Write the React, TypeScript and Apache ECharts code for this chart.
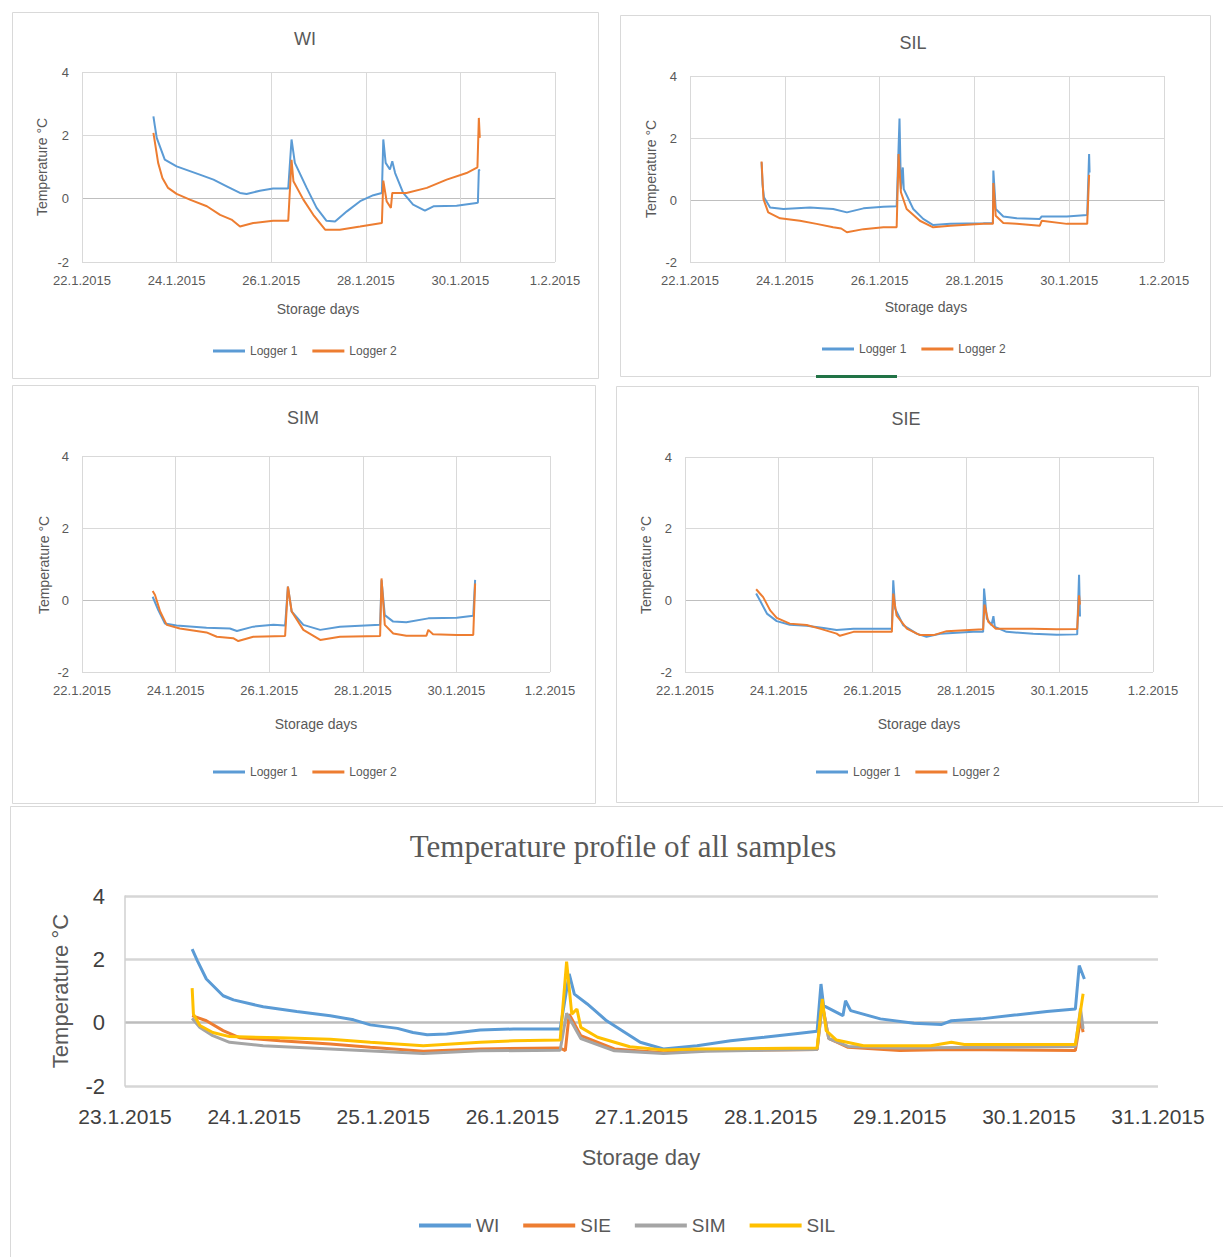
import React, { useEffect, useRef } from "react";
import * as echarts from "echarts";

// ---- tick labels ----
const SMALL_X_LABELS = ["22.1.2015", "24.1.2015", "26.1.2015", "28.1.2015", "30.1.2015", "1.2.2015"];
const ALL_X_LABELS = ["23.1.2015", "24.1.2015", "25.1.2015", "26.1.2015", "27.1.2015", "28.1.2015", "29.1.2015", "30.1.2015", "31.1.2015"];
const PANEL_TITLES = ["WI", "SIL", "SIM", "SIE"];
const LOGGER_NAMES = ["Logger 1", "Logger 2"];
const ALL_NAMES = ["WI", "SIE", "SIM", "SIL"];

// ---- data: [day of January 2015, temperature °C] ----
const WI_L1 = [[23.51,2.6],[23.54,2.3],[23.58,1.92],[23.75,1.23],[24.0,1.02],[24.49,0.76],[24.78,0.6],[25.06,0.39],[25.34,0.18],[25.48,0.15],[25.76,0.25],[26.04,0.32],[26.36,0.32],[26.43,1.87],[26.5,1.13],[26.75,0.34],[26.96,-0.29],[27.17,-0.7],[27.35,-0.72],[27.6,-0.4],[27.88,-0.08],[28.16,0.11],[28.34,0.18],[28.37,1.87],[28.42,1.13],[28.51,0.92],[28.56,1.18],[28.62,0.81],[28.79,0.18],[29.0,-0.19],[29.25,-0.38],[29.43,-0.24],[29.92,-0.22],[30.34,-0.14],[30.37,-0.12],[30.39,0.92],[30.41,0.88]];
const WI_L2 = [[23.51,2.08],[23.55,1.7],[23.61,1.13],[23.7,0.65],[23.82,0.34],[24.0,0.15],[24.28,-0.03],[24.64,-0.24],[24.92,-0.51],[25.16,-0.66],[25.34,-0.88],[25.62,-0.77],[26.04,-0.7],[26.36,-0.7],[26.43,1.23],[26.47,0.55],[26.68,-0.03],[26.89,-0.51],[27.14,-0.98],[27.45,-0.98],[27.88,-0.88],[28.34,-0.77],[28.37,0.57],[28.44,-0.08],[28.53,-0.29],[28.56,0.18],[28.86,0.18],[29.29,0.34],[29.71,0.6],[30.13,0.81],[30.36,0.99],[30.39,2.55],[30.41,1.92]];
const SIL_L1 = [[23.51,1.22],[23.53,0.5],[23.56,0.09],[23.69,-0.24],[23.97,-0.29],[24.53,-0.24],[25.02,-0.29],[25.31,-0.4],[25.66,-0.27],[26.08,-0.22],[26.36,-0.2],[26.42,2.63],[26.45,0.35],[26.49,1.05],[26.51,0.35],[26.71,-0.29],[26.92,-0.61],[27.13,-0.81],[27.49,-0.77],[28.19,-0.75],[28.39,-0.74],[28.4,0.95],[28.45,-0.29],[28.61,-0.53],[28.89,-0.59],[29.38,-0.61],[29.42,-0.53],[29.95,-0.53],[30.38,-0.48],[30.42,1.48],[30.43,0.89]];
const SIL_L2 = [[23.51,1.24],[23.55,0.03],[23.65,-0.4],[23.9,-0.59],[24.32,-0.67],[24.67,-0.77],[25.02,-0.88],[25.19,-0.92],[25.31,-1.04],[25.66,-0.94],[26.08,-0.88],[26.36,-0.88],[26.4,1.48],[26.45,0.25],[26.57,-0.29],[26.85,-0.67],[27.13,-0.88],[27.49,-0.83],[28.19,-0.77],[28.39,-0.77],[28.4,0.55],[28.45,-0.51],[28.61,-0.74],[28.89,-0.77],[29.38,-0.83],[29.42,-0.67],[29.95,-0.77],[30.38,-0.77],[30.42,0.81]];
const SIM_L1 = [[23.51,0.09],[23.63,-0.28],[23.77,-0.65],[24.02,-0.71],[24.66,-0.77],[25.16,-0.79],[25.31,-0.86],[25.66,-0.74],[26.09,-0.69],[26.34,-0.71],[26.4,0.37],[26.48,-0.32],[26.73,-0.69],[27.09,-0.83],[27.51,-0.74],[28.37,-0.69],[28.4,0.55],[28.47,-0.42],[28.65,-0.6],[28.93,-0.62],[29.4,-0.51],[30.01,-0.49],[30.36,-0.44],[30.4,0.56]];
const SIM_L2 = [[23.51,0.25],[23.56,0.14],[23.67,-0.32],[23.81,-0.69],[24.09,-0.79],[24.66,-0.9],[24.88,-1.02],[25.23,-1.06],[25.34,-1.14],[25.66,-1.02],[26.34,-1.0],[26.4,0.37],[26.48,-0.32],[26.73,-0.83],[27.09,-1.11],[27.51,-1.02],[28.37,-1.0],[28.4,0.6],[28.47,-0.69],[28.65,-0.93],[28.93,-0.99],[29.36,-0.99],[29.4,-0.83],[29.5,-0.95],[30.01,-0.97],[30.36,-0.97],[30.4,0.46]];
const SIE_L1 = [[23.52,0.19],[23.6,0.0],[23.75,-0.37],[23.96,-0.58],[24.24,-0.68],[24.6,-0.71],[24.96,-0.77],[25.24,-0.83],[25.6,-0.79],[26.01,-0.79],[26.42,-0.79],[26.45,0.56],[26.49,-0.23],[26.66,-0.69],[26.95,-0.93],[27.16,-1.02],[27.45,-0.93],[28.16,-0.88],[28.37,-0.88],[28.39,0.33],[28.45,-0.51],[28.55,-0.69],[28.59,-0.44],[28.62,-0.74],[28.87,-0.88],[29.44,-0.93],[29.94,-0.96],[30.38,-0.95],[30.42,0.71],[30.44,-0.45]];
const SIE_L2 = [[23.52,0.31],[23.6,0.19],[23.67,0.09],[23.82,-0.28],[23.96,-0.49],[24.24,-0.65],[24.6,-0.69],[24.88,-0.79],[25.24,-0.93],[25.31,-0.99],[25.6,-0.88],[26.01,-0.88],[26.42,-0.88],[26.45,0.19],[26.52,-0.42],[26.74,-0.79],[27.02,-0.97],[27.31,-0.97],[27.59,-0.86],[28.37,-0.81],[28.4,-0.12],[28.48,-0.6],[28.64,-0.79],[29.44,-0.79],[29.94,-0.81],[30.38,-0.8],[30.42,0.14],[30.44,-0.12]];

const ALL_WI = [[23.52,2.32],[23.56,1.96],[23.63,1.38],[23.76,0.85],[23.84,0.72],[24.07,0.5],[24.33,0.35],[24.59,0.22],[24.77,0.09],[24.9,-0.07],[25.11,-0.18],[25.23,-0.31],[25.34,-0.38],[25.49,-0.36],[25.75,-0.23],[26.01,-0.2],[26.37,-0.2],[26.44,1.54],[26.48,0.9],[26.58,0.59],[26.73,0.06],[26.99,-0.62],[27.17,-0.83],[27.43,-0.73],[27.69,-0.57],[27.95,-0.46],[28.21,-0.34],[28.36,-0.27],[28.39,1.22],[28.41,0.54],[28.56,0.22],[28.58,0.69],[28.62,0.38],[28.85,0.12],[29.11,-0.02],[29.32,-0.06],[29.4,0.06],[29.63,0.12],[29.89,0.24],[30.14,0.35],[30.36,0.43],[30.39,1.8],[30.43,1.38]];
const ALL_SIE = [[23.52,0.22],[23.63,0.06],[23.76,-0.25],[23.89,-0.48],[24.2,-0.57],[24.59,-0.67],[24.9,-0.78],[25.31,-0.9],[25.75,-0.83],[26.37,-0.8],[26.41,-0.88],[26.44,0.27],[26.53,-0.41],[26.79,-0.83],[27.17,-0.95],[27.5,-0.88],[28.36,-0.85],[28.4,0.6],[28.45,-0.5],[28.6,-0.78],[29.0,-0.88],[29.4,-0.85],[30.36,-0.88],[30.4,0.1],[30.42,-0.3]];
const ALL_SIM = [[23.52,0.14],[23.58,-0.15],[23.68,-0.41],[23.81,-0.62],[24.07,-0.73],[24.59,-0.83],[25.31,-0.97],[25.75,-0.89],[26.37,-0.87],[26.42,0.3],[26.53,-0.5],[26.79,-0.89],[27.17,-0.97],[27.5,-0.9],[28.36,-0.85],[28.4,0.55],[28.45,-0.5],[28.6,-0.75],[29.0,-0.8],[30.36,-0.75],[30.4,0.45],[30.42,-0.2]];
const ALL_SIL = [[23.52,1.09],[23.53,0.27],[23.58,-0.09],[23.68,-0.31],[23.81,-0.44],[24.2,-0.48],[24.59,-0.52],[24.9,-0.62],[25.31,-0.73],[25.75,-0.62],[26.01,-0.57],[26.37,-0.55],[26.42,1.93],[26.46,0.27],[26.5,0.43],[26.53,-0.15],[26.66,-0.46],[26.91,-0.76],[27.17,-0.86],[27.43,-0.83],[28.36,-0.8],[28.4,0.75],[28.43,-0.25],[28.51,-0.55],[28.72,-0.73],[29.24,-0.73],[29.4,-0.62],[29.5,-0.69],[30.36,-0.69],[30.42,0.91]];

const BLUE = "#5b9bd5";
const ORANGE = "#ed7d31";
const GRAY = "#a5a5a5";
const YELLOW = "#ffc000";
const FONT = "'Liberation Sans', Arial, sans-serif";
const SERIF = "'Liberation Serif', 'Times New Roman', serif";
const TXT = "#595959";

const PANELS = [
  { data: [WI_L1, WI_L2], grid: { left: 82, top: 72, width: 473, height: 190 }, titlePos: [305, 39], xNamePos: [318, 309], yNamePos: [42, 167], legendPos: [213, 345], frame: [12, 12, 586, 366] },
  { data: [SIL_L1, SIL_L2], grid: { left: 690, top: 76, width: 474, height: 186 }, titlePos: [913, 43], xNamePos: [926, 307], yNamePos: [651, 169], legendPos: [822, 343], frame: [620, 15, 590, 361] },
  { data: [SIM_L1, SIM_L2], grid: { left: 82, top: 456, width: 468, height: 216 }, titlePos: [303, 418], xNamePos: [316, 724], yNamePos: [44, 565], legendPos: [213, 766], frame: [12, 385, 583, 418] },
  { data: [SIE_L1, SIE_L2], grid: { left: 685, top: 457, width: 468, height: 215 }, titlePos: [906, 419], xNamePos: [919, 724], yNamePos: [646, 565], legendPos: [816, 766], frame: [616, 386, 582, 416] },
];

function txt(text: string, x: number, y: number, size: number, opts: any = {}) {
  return {
    type: "text",
    x,
    y,
    rotation: opts.rotation || 0,
    style: {
      text,
      fill: opts.fill || TXT,
      fontSize: size,
      fontFamily: opts.family || FONT,
      align: "center",
      verticalAlign: "middle",
      textAlign: "center",
      textVerticalAlign: "middle",
    },
  };
}

export default function App() {
  const ref = useRef<HTMLDivElement>(null);
  useEffect(() => {
    document.body.style.margin = "0";
    const chart = echarts.init(ref.current!, undefined, { renderer: "svg" });

    const grids: any[] = [];
    const xAxes: any[] = [];
    const yAxes: any[] = [];
    const series: any[] = [];
    const legends: any[] = [];
    const graphics: any[] = [];

    PANELS.forEach((p, i) => {
      grids.push({ ...p.grid, containLabel: false });
      xAxes.push({
        type: "value", gridIndex: i, min: 22, max: 32, interval: 2,
        axisLine: { show: false }, axisTick: { show: false },
        axisLabel: { color: TXT, fontSize: 13, fontFamily: FONT, margin: 12, formatter: (v: number) => SMALL_X_LABELS[Math.round((v - 22) / 2)] },
        splitLine: { show: true, lineStyle: { color: "#d9d9d9", width: 1 } },
      });
      yAxes.push({
        type: "value", gridIndex: i, min: -2, max: 4, interval: 2,
        axisLine: { show: false }, axisTick: { show: false },
        axisLabel: { color: TXT, fontSize: 13, fontFamily: FONT, margin: 13 },
        splitLine: { show: true, lineStyle: { color: ["#d9d9d9", "#bfbfbf", "#d9d9d9", "#d9d9d9"], width: 1 } },
      });
      [BLUE, ORANGE].forEach((c, k) => {
        series.push({
          type: "line", name: LOGGER_NAMES[k], xAxisIndex: i, yAxisIndex: i,
          data: p.data[k], showSymbol: false, symbol: "none",
          lineStyle: { color: c, width: 2 }, itemStyle: { color: c },
        });
      });
      legends.push({
        left: p.legendPos[0], top: p.legendPos[1], padding: 0, icon: "rect", itemWidth: 32, itemHeight: 3, itemGap: 15,
        textStyle: { fontSize: 12, color: TXT, fontFamily: FONT }, data: LOGGER_NAMES, selectedMode: false,
      });
      const f = p.frame;
      graphics.push({ type: "rect", shape: { x: f[0] + 0.5, y: f[1] + 0.5, width: f[2], height: f[3] }, style: { fill: "none", stroke: "#d9d9d9", lineWidth: 1 }, z: -1 });
      graphics.push(txt(PANEL_TITLES[i], p.titlePos[0], p.titlePos[1], 18));
      graphics.push(txt("Storage days", p.xNamePos[0], p.xNamePos[1], 14));
      graphics.push(txt("Temperature °C", p.yNamePos[0], p.yNamePos[1], 14, { rotation: Math.PI / 2 }));
    });

    // bottom combined chart
    grids.push({ left: 125, top: 896, width: 1033, height: 190 });
    xAxes.push({
      type: "value", gridIndex: 4, min: 23, max: 31, interval: 1,
      axisLine: { show: false }, axisTick: { show: false },
      axisLabel: { color: "#404040", fontSize: 21, fontFamily: FONT, margin: 20, formatter: (v: number) => ALL_X_LABELS[Math.round(v - 23)] },
      splitLine: { show: false },
    });
    yAxes.push({
      type: "value", gridIndex: 4, min: -2, max: 4, interval: 2,
      axisLine: { show: true, lineStyle: { color: "#d0d0d0", width: 1.5 } }, axisTick: { show: false },
      axisLabel: { color: "#404040", fontSize: 22, fontFamily: FONT, margin: 20 },
      splitLine: { show: true, lineStyle: { color: ["#d6d6d6", "#bdbdbd", "#d6d6d6", "#d6d6d6"], width: 2.5 } },
    });
    [ALL_WI, ALL_SIE, ALL_SIM, ALL_SIL].forEach((d, k) => {
      const c = [BLUE, ORANGE, GRAY, YELLOW][k];
      series.push({
        type: "line", name: ALL_NAMES[k], xAxisIndex: 4, yAxisIndex: 4, data: d,
        showSymbol: false, symbol: "none", lineStyle: { color: c, width: 3 }, itemStyle: { color: c },
      });
    });
    legends.push({
      left: 419, top: 1216, padding: 0, icon: "rect", itemWidth: 52, itemHeight: 4, itemGap: 24,
      textStyle: { fontSize: 19, color: TXT, fontFamily: FONT }, data: ALL_NAMES, selectedMode: false,
    });
    graphics.push({ type: "rect", shape: { x: 10.5, y: 806.5, width: 1220, height: 470 }, style: { fill: "none", stroke: "#d9d9d9", lineWidth: 1 }, z: -1 });
    graphics.push({ type: "rect", shape: { x: 816, y: 375, width: 81, height: 3 }, style: { fill: "#217346" } });
    graphics.push(txt("Temperature profile of all samples", 623, 846, 31, { family: SERIF }));
    graphics.push(txt("Storage day", 641, 1157, 22));
    graphics.push(txt("Temperature °C", 60, 991, 22, { rotation: Math.PI / 2 }));

    chart.setOption({
      animation: false,
      backgroundColor: "#ffffff",
      grid: grids,
      xAxis: xAxes,
      yAxis: yAxes,
      series,
      legend: legends,
      graphic: graphics,
    });
    return () => chart.dispose();
  }, []);
  return <div ref={ref} style={{ width: 1223, height: 1257 }} />;
}
